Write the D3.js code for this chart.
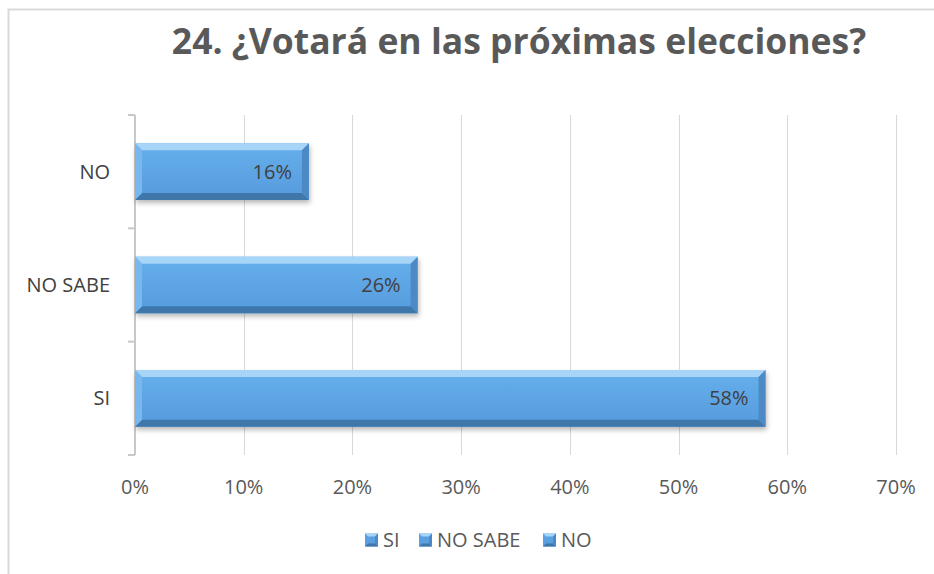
<!DOCTYPE html>
<meta charset="utf-8">
<style>
	body { margin: 0; background: #fff; font-family: "Open Sans", sans-serif; }
</style>
<body>
	<div id="chart"></div>
</body>
<script src="https://d3js.org/d3.v7.min.js"></script>
<script>
	const categories = ["SI", "NO SABE", "NO"];
	const values = [0.58, 0.26, 0.16];
	const ticks = [0, 0.1, 0.2, 0.3, 0.4, 0.5, 0.6, 0.7];
	const title = "24. ¿Votará en las próximas elecciones?";

	const width = 934, height = 574;
	const plot = { left: 135, right: 896, top: 115, bottom: 455 };
	const bevel = 7;

	const svg = d3.select("#chart").append("svg")
		.attr("width", width)
		.attr("height", height);

	const defs = svg.append("defs");
	const grad = defs.append("linearGradient").attr("id", "barFill")
		.attr("x1", 0).attr("y1", 0).attr("x2", 0).attr("y2", 1);
	grad.append("stop").attr("offset", "0%").attr("stop-color", "#67afec");
	grad.append("stop").attr("offset", "100%").attr("stop-color", "#559bdd");
	const shadow = defs.append("filter").attr("id", "shadow")
		.attr("x", "-5%").attr("y", "-20%").attr("width", "110%").attr("height", "160%");
	shadow.append("feDropShadow").attr("dx", 1).attr("dy", 3).attr("stdDeviation", 2.5)
		.attr("flood-color", "#000").attr("flood-opacity", 0.28);

	// chart frame
	svg.append("path")
		.attr("d", "M8.5,574 V9.5 H934")
		.attr("fill", "none").attr("stroke", "#d9d9d9").attr("stroke-width", 2);

	svg.append("text")
		.attr("x", 519).attr("y", 54)
		.attr("text-anchor", "middle")
		.attr("font-size", 35.5).attr("font-weight", 700)
		.attr("fill", "#595959")
		.text(title);

	const x = d3.scaleLinear().domain([0, 0.7]).range([plot.left, plot.right]);
	const y = d3.scaleBand().domain(categories).range([plot.bottom, plot.top]).paddingInner(0.5).paddingOuter(0.25);

	// gridlines
	svg.append("g").selectAll("line").data(ticks.slice(1)).join("line")
		.attr("x1", d => Math.round(x(d)) + 0.5).attr("x2", d => Math.round(x(d)) + 0.5)
		.attr("y1", plot.top).attr("y2", plot.bottom)
		.attr("stroke", "#d9d9d9").attr("stroke-width", 1);

	// category axis with tick marks between bands
	const bandEdges = d3.range(categories.length + 1).map(i => plot.bottom - i * (plot.bottom - plot.top) / categories.length);
	const axisG = svg.append("g").attr("stroke", "#c8c8c8").attr("stroke-width", 2);
	axisG.append("line").attr("x1", plot.left).attr("x2", plot.left).attr("y1", plot.top).attr("y2", plot.bottom);
	axisG.selectAll("line.tk").data(bandEdges).join("line").attr("class", "tk")
		.attr("x1", plot.left - 7).attr("x2", plot.left).attr("y1", d => d).attr("y2", d => d);

	svg.append("g").selectAll("text").data(categories).join("text")
		.attr("x", 110).attr("y", d => y(d) + y.bandwidth() / 2)
		.attr("dy", "0.35em").attr("text-anchor", "end")
		.attr("font-size", 20).attr("fill", "#404040")
		.text(d => d);

	svg.append("g").selectAll("text").data(ticks).join("text")
		.attr("x", d => x(d)).attr("y", 494)
		.attr("text-anchor", "middle")
		.attr("font-size", 20).attr("fill", "#595959")
		.text(d => d3.format(".0%")(d));

	// beveled bars
	const bars = svg.append("g").selectAll("g").data(categories).join("g")
		.attr("filter", "url(#shadow)");
	bars.each(function (c, i) {
		const g = d3.select(this);
		const x0 = x(0), x1 = x(values[i]);
		const y0 = y(c), y1 = y(c) + y.bandwidth();
		const b = bevel;
		g.append("rect").attr("x", x0).attr("y", y0).attr("width", x1 - x0).attr("height", y1 - y0)
			.attr("fill", "url(#barFill)");
		const poly = (pts, fill) => g.append("polygon").attr("points", pts.map(p => p.join(",")).join(" ")).attr("fill", fill);
		poly([[x0, y0], [x1, y0], [x1 - b, y0 + b], [x0 + b, y0 + b]], "#a6d5f8");
		poly([[x0, y1], [x1, y1], [x1 - b, y1 - b], [x0 + b, y1 - b]], "#3f77ab");
		poly([[x0, y0], [x0 + b, y0 + b], [x0 + b, y1 - b], [x0, y1]], "#78b8ee");
		poly([[x1, y0], [x1 - b, y0 + b], [x1 - b, y1 - b], [x1, y1]], "#4d8ac5");
	});

	svg.append("g").selectAll("text").data(categories).join("text")
		.attr("x", (d, i) => x(values[i]) - 17).attr("y", d => y(d) + y.bandwidth() / 2)
		.attr("dy", "0.35em").attr("text-anchor", "end")
		.attr("font-size", 20).attr("fill", "#404040")
		.text((d, i) => d3.format(".0%")(values[i]));

	// legend
	const legendX = [365, 419, 543];
	const leg = svg.append("g").selectAll("g").data(categories).join("g")
		.attr("transform", (d, i) => `translate(${legendX[i]},540)`);
	leg.append("rect").attr("x", 0).attr("y", -6.5).attr("width", 13).attr("height", 13).attr("fill", "#5a9fdf");
	leg.append("polygon").attr("points", "0,-6.5 13,-6.5 10,-3.5 3,-3.5").attr("fill", "#a6d5f8");
	leg.append("polygon").attr("points", "0,6.5 13,6.5 10,3.5 3,3.5").attr("fill", "#3f77ab");
	leg.append("polygon").attr("points", "13,-6.5 13,6.5 10,3.5 10,-3.5").attr("fill", "#4d8ac5");
	leg.append("text").attr("x", 18).attr("y", 0).attr("dy", "0.35em")
		.attr("font-size", 20).attr("fill", "#595959")
		.text(d => d);
</script>
